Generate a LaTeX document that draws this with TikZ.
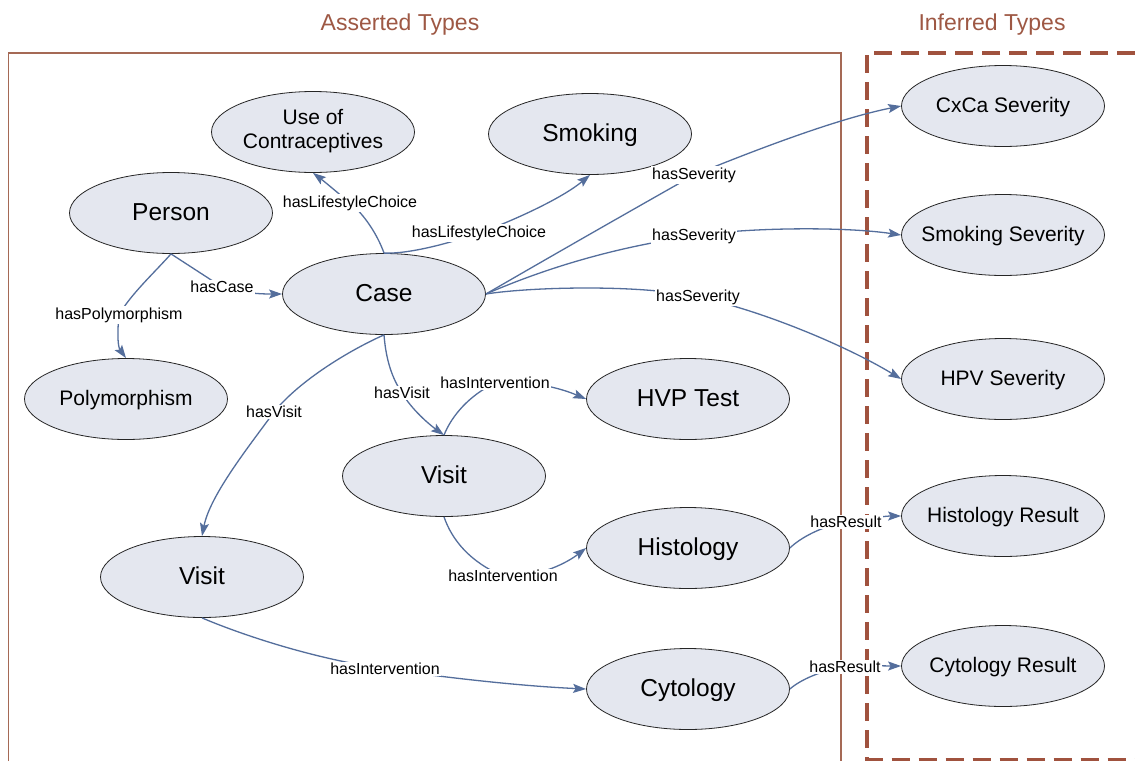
\documentclass[tikz,border=0pt]{standalone}
\usepackage{fontspec}
\setmainfont{Liberation Sans}
\usetikzlibrary{shapes.geometric,arrows.meta}
\definecolor{edgeblue}{RGB}{84,110,156}
\definecolor{nodefill}{RGB}{228,231,239}
\definecolor{framebrown}{RGB}{165,105,85}
\definecolor{dashbrown}{RGB}{160,82,62}
\definecolor{titlebrown}{RGB}{158,88,68}
\newcommand\nodetxt[1]{\makebox[0pt]{#1}}
\begin{document}
\begin{tikzpicture}[x=1pt,y=-1pt,
  cls/.style={ellipse,draw=black!85,line width=0.8pt,fill=nodefill,minimum width=203pt,minimum height=81pt,inner sep=0pt,align=center},
  big/.style={cls,font=\fontsize{24.5}{28}\selectfont,text height=20.4pt,text depth=4.9pt},
  small/.style={cls,font=\fontsize{21}{24}\selectfont,text height=17.2pt,text depth=4.2pt},
  edge/.style={draw=edgeblue,line width=1.3pt,-{Stealth[length=13pt,width=9pt,inset=2.5pt]}},
  lbl/.style={fill=white,inner sep=1.5pt,font=\fontsize{16}{18}\selectfont},
  title/.style={text=titlebrown,font=\fontsize{23}{26}\selectfont}]
\useasboundingbox (0,0) rectangle (1135,761);
\fill[white] (0,0) rectangle (1135,761);

% frames
\draw[framebrown,line width=1.3pt] (8.5,761) -- (8.5,53) -- (841,53) -- (841,761);
\draw[dashbrown,line width=3.5pt,dash pattern=on 18pt off 9pt] (1135,53) -- (867,53) -- (867,759.5) -- (1135,759.5);

\node[title] (t1) at (400,25) {Asserted Types};
\node[title] (t2) at (992,25) {Inferred Types};

% nodes
\node[cls,font=\fontsize{21}{24}\selectfont] (uoc) at (313,132) {\nodetxt{\begin{tabular}{@{}c@{}}Use of\\Contraceptives\end{tabular}}};
\node[big] (smoking) at (590,134) {\nodetxt{Smoking}};
\node[big] (person) at (171,213) {\nodetxt{Person}};
\node[big] (case) at (384,294) {\nodetxt{Case}};
\node[small] (poly) at (126,399) {\nodetxt{Polymorphism}};
\node[big] (visitm) at (444,476) {\nodetxt{Visit}};
\node[big] (visitl) at (202,577) {\nodetxt{Visit}};
\node[big] (hvp) at (688,399) {\nodetxt{HVP Test}};
\node[big] (histo) at (688,548) {\nodetxt{Histology}};
\node[big] (cyto) at (688,689) {\nodetxt{Cytology}};
\node[small] (cxca) at (1003,106) {\nodetxt{CxCa Severity}};
\node[small] (smsev) at (1003,235) {\nodetxt{Smoking Severity}};
\node[small] (hpvsev) at (1003,379) {\nodetxt{HPV Severity}};
\node[small] (histres) at (1003,516) {\nodetxt{Histology Result}};
\node[small] (cytores) at (1003,666) {\nodetxt{Cytology Result}};

% edges
\draw[edge] (person.south) -- (222,287) node[lbl](l1){hasCase}
  .. controls (245,294) and (265,294) .. (case.west);
\draw[edge] (case.north) .. controls (378,236) and (365,215) .. (350,203) node[lbl](l2){hasLifestyleChoice}
  .. controls (338,193) and (325,182) .. (uoc.south);
\draw[edge] (case.north) .. controls (410,254) and (450,243) .. (479,233) node[lbl](l3){hasLifestyleChoice}
  .. controls (505,224) and (560,200) .. (smoking.south);
\draw[edge] (case.east) .. controls (555,254) and (625,214) .. (694,175) node[lbl](l4){hasSeverity}
  .. controls (760,148) and (840,118) .. (cxca.west);
\draw[edge] (case.east) .. controls (560,262) and (630,245) .. (694,236) node[lbl](l5){hasSeverity}
  .. controls (740,228) and (840,226) .. (smsev.west);
\draw[edge] (case.east) .. controls (530,287) and (640,284) .. (698,297) node[lbl](l6){hasSeverity}
  .. controls (760,310) and (845,345) .. (hpvsev.west);
\draw[edge] (person.south) .. controls (155,272) and (130,295) .. (119,315) node[lbl](l7){hasPolymorphism}
  .. controls (117,335) and (118,347) .. (poly.north);
\draw[edge] (case.south) .. controls (350,350) and (300,380) .. (274,412) node[lbl](l8){hasVisit}
  .. controls (250,445) and (210,495) .. (visitl.north);
\draw[edge] (case.south) .. controls (386,360) and (392,378) .. (402,393) node[lbl](l9){hasVisit}
  .. controls (412,410) and (430,425) .. (visitm.north);
\draw[edge] (visitm.north) .. controls (452,415) and (470,395) .. (495,383) node[lbl](l10){hasIntervention}
  .. controls (530,380) and (560,388) .. (hvp.west);
\draw[edge] (visitm.south) .. controls (452,540) and (470,562) .. (503,576) node[lbl](l11){hasIntervention}
  .. controls (540,578) and (568,562) .. (histo.west);
\draw[edge] (visitl.south) .. controls (240,634) and (310,658) .. (385,669) node[lbl](l12){hasIntervention}
  .. controls (450,678) and (520,686) .. (cyto.west);
\draw[edge] (histo.east) .. controls (800,538) and (822,526) .. (846,522) node[lbl](l13){hasResult}
  .. controls (870,518) and (886,516) .. (histres.west);
\draw[edge] (cyto.east) .. controls (800,680) and (822,670) .. (845,667) node[lbl](l14){hasResult}
  .. controls (870,665) and (886,666) .. (cytores.west);
\end{tikzpicture}
\end{document}
